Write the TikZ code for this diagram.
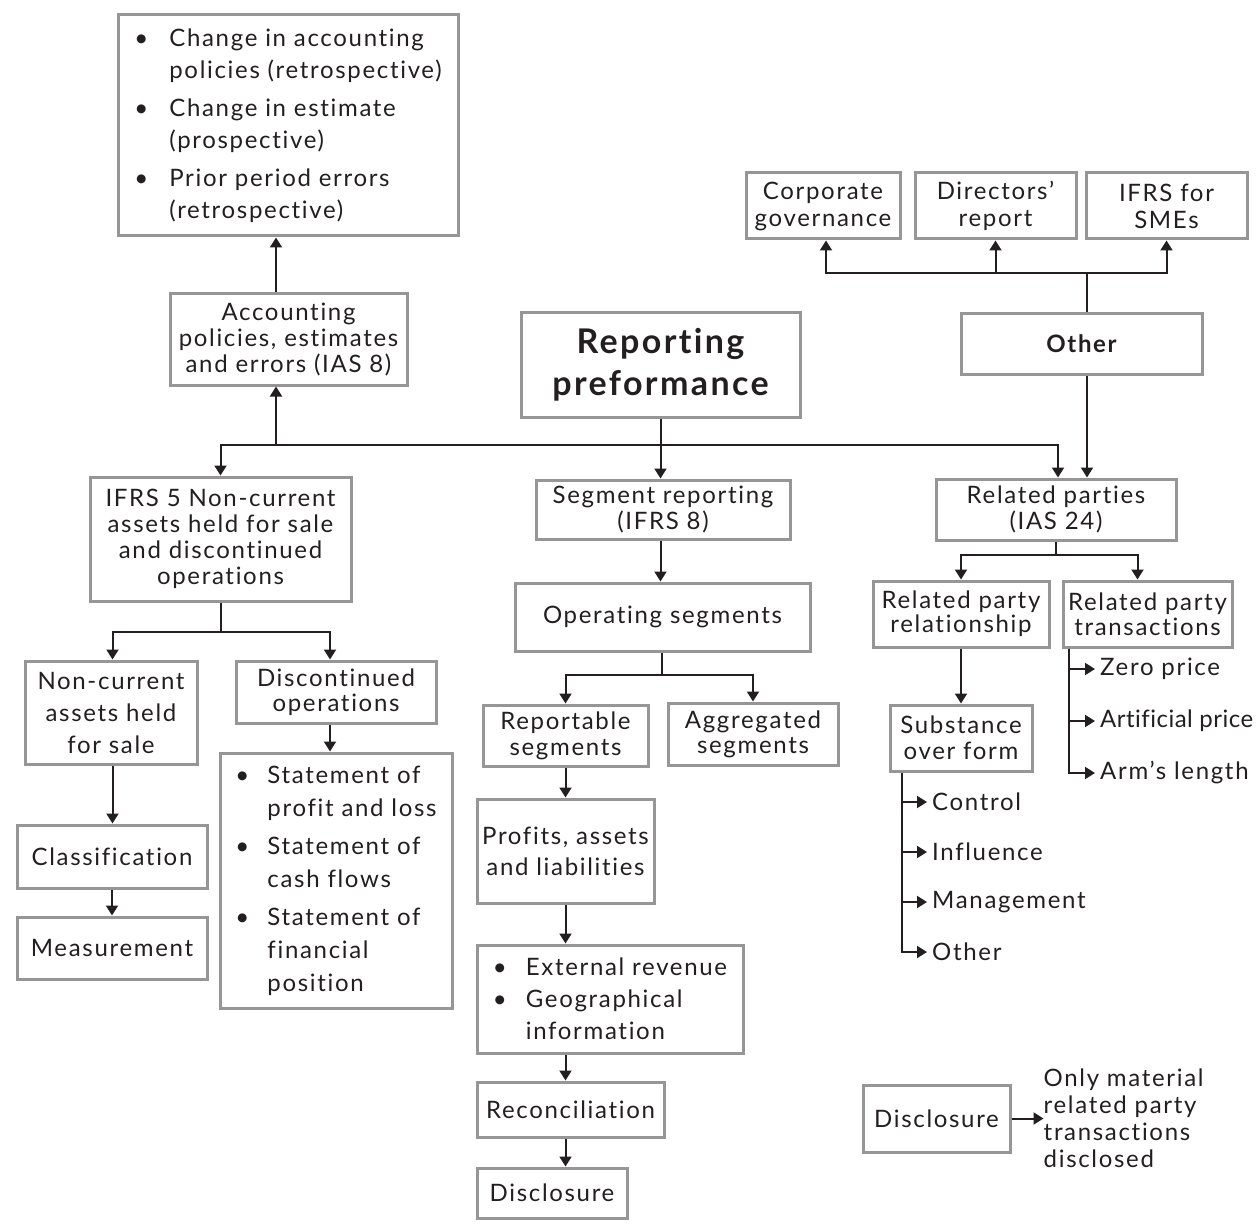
\documentclass[tikz,border=0pt]{standalone}
\usepackage{fontspec}
\setmainfont{Lato}[LetterSpace=7, Ligatures=NoCommon]
\usepackage{xcolor}
\usetikzlibrary{arrows.meta, positioning, calc}
\definecolor{boxgray}{RGB}{150,150,150}
\definecolor{inkdark}{RGB}{35,31,32}
\newcommand{\setfs}[2]{\fontsize{#1}{#2}\selectfont}
\newcommand{\bitem}[2][35pt]{\makebox[#1][l]{\textbullet}#2}
\newcommand{\bgap}[2][35pt]{\hspace*{#1}#2}
\tikzstyle{box} = [draw=boxgray, line width=3pt, rectangle, align=center, inner sep=0pt, text=inkdark, font=\setfs{24}{26}]
\tikzstyle{listbox} = [box, align=left, font=\setfs{24}{32}]
\tikzstyle{lbl} = [anchor=west, inner xsep=5pt, inner ysep=0pt, text=inkdark, font=\setfs{24}{26}]
\tikzstyle{arrow} = [draw=inkdark, line width=2pt, -{Triangle[length=10pt,width=12pt]}]
\tikzstyle{line} = [draw=inkdark, line width=2pt]

\begin{document}
\begin{tikzpicture}[x=1pt, y=-1pt]
    \path[fill=white] (0,0) rectangle (1259,1225);
    \useasboundingbox (0,0) rectangle (1259,1225);

    % centre
    \node (report) [box, minimum width=279, minimum height=105, font=\bfseries\setfs{34}{42}] at (660.5,364.5) {Reporting\\preformance};

    % IAS 8
    \node (changes) [listbox, minimum width=340, minimum height=221] at (288,125.5) {\bitem{Change in accounting}\\ \bgap{policies (retrospective)}\\[6pt] \bitem{Change in estimate}\\ \bgap{(prospective)}\\[6pt] \bitem{Prior period errors}\\ \bgap{(retrospective)}};
    \node (acc) [box, minimum width=237, minimum height=91] at (288.5,339.5) {Accounting\\policies, estimates\\and errors (IAS 8)};

    % other
    \node (corp) [box, minimum width=154, minimum height=66, font=\setfs{24}{27}] at (823,206) {Corporate\\governance};
    \node (dirs) [box, minimum width=161, minimum height=66, font=\setfs{24}{27}] at (995.5,206) {Directors’\\report};
    \node (smes) [box, minimum width=161, minimum height=66, font=\setfs{24}{27}] at (1166.5,206) {IFRS for\\SMEs};
    \node (other) [box, minimum width=241, minimum height=61, font=\bfseries\setfs{24}{26}] at (1081.5,343.5) {Other};

    % IFRS 5
    \node (ifrsfive) [box, minimum width=261, minimum height=124] at (220.5,539) {IFRS 5 Non-current\\assets held for sale\\and discontinued\\operations};
    \node (noncur) [box, minimum width=172, minimum height=103, font=\setfs{24}{32}] at (111,712.5) {Non-current\\assets held\\for sale};
    \node (discont) [box, minimum width=200, minimum height=62, font=\setfs{24}{25}] at (336,692) {Discontinued\\operations};
    \node (stmts) [listbox, minimum width=232, minimum height=255, font=\setfs{24}{33}] at (336,880.5) {\bitem[32pt]{Statement of}\\ \bgap[32pt]{profit and loss}\\[5pt] \bitem[32pt]{Statement of}\\ \bgap[32pt]{cash flows}\\[5pt] \bitem[32pt]{Statement of}\\ \bgap[32pt]{financial}\\ \bgap[32pt]{position}};
    \node (class) [box, minimum width=190, minimum height=63] at (112,856.5) {Classification};
    \node (meas) [box, minimum width=190, minimum height=62] at (112,948) {Measurement};

    % IFRS 8
    \node (segrep) [box, minimum width=254, minimum height=59] at (663,509.5) {Segment reporting\\(IFRS 8)};
    \node (opseg) [box, minimum width=295, minimum height=68] at (662.5,617) {Operating segments};
    \node (repseg) [box, minimum width=165, minimum height=61] at (565.5,735.5) {Reportable\\segments};
    \node (aggseg) [box, minimum width=170, minimum height=62, font=\setfs{24}{25}] at (753,734) {Aggregated\\segments};
    \node (profits) [box, minimum width=177, minimum height=104, font=\setfs{24}{31}] at (565.5,851) {Profits, assets\\and liabilities};
    \node (segbul) [listbox, minimum width=266, minimum height=108] at (610,999) {\bitem[33pt]{External revenue}\\ \bitem[33pt]{Geographical}\\ \bgap[33pt]{information}};
    \node (recon) [box, minimum width=187, minimum height=55] at (570.5,1109.5) {Reconciliation};
    \node (segdisc) [box, minimum width=150, minimum height=50] at (552,1193) {Disclosure};

    % IAS 24
    \node (relp) [box, minimum width=240, minimum height=61] at (1056,509.5) {Related parties\\(IAS 24)};
    \node (relship) [box, minimum width=176, minimum height=66, font=\setfs{24}{24}] at (961,614) {Related party\\relationship};
    \node (reltrans) [box, minimum width=169, minimum height=66, font=\setfs{24}{25}] at (1147.5,614) {Related party\\transactions};
    \node (subst) [box, minimum width=142, minimum height=66] at (961,738) {Substance\\over form};
    \node (ctrl) [lbl] at (927,802) {Control};
    \node (infl) [lbl] at (927,852) {Influence};
    \node (mgmt) [lbl] at (927,902) {Management};
    \node (oth) [lbl] at (927,952) {Other};
    \node (zero) [lbl] at (1095,669) {Zero price};
    \node (artif) [lbl] at (1095,721) {\addfontfeature{LetterSpace=2}Artificial price};
    \node (arms) [lbl] at (1095,773) {Arm's length};
    \node (rpdisc) [box, minimum width=147, minimum height=67] at (936.5,1118.5) {Disclosure};
    \node (rpnote) [lbl, anchor=center, inner xsep=0pt, align=left, font=\setfs{24}{27}, right=32pt of rpdisc] {Only material\\related party\\transactions\\disclosed};

    % connectors from the centre
    \coordinate (split) at (660.5,445);
    \coordinate (accsplit) at (276,445);
    \draw [arrow] (report.south) -- (report.south |- segrep.north);
    \draw [arrow] (split) -| (ifrsfive.north);
    \draw [arrow] (split) -| ([xshift=2]relp.north);
    \draw [arrow] (accsplit) -- (accsplit |- acc.south);
    \draw [arrow] (accsplit |- acc.north) -- (accsplit |- changes.south);

    % connectors of other
    \coordinate (toprail) at (1087,273);
    \draw [line] ([xshift=5.5]other.north) -- (toprail);
    \draw [arrow] (toprail) -| ([xshift=3]corp.south);
    \draw [arrow] (toprail) -| (smes.south);
    \draw [arrow] (toprail -| dirs.south) -- (dirs.south);
    \draw [arrow] ([xshift=5.5]other.south) -- ([xshift=5.5]other.south |- relp.north);

    % connectors of IFRS 5
    \coordinate (ifsplit) at (220.5,632);
    \draw [line] (ifrsfive.south) -- (ifsplit);
    \draw [arrow] (ifsplit) -| ([xshift=1.5]noncur.north);
    \draw [arrow] (ifsplit) -| ([xshift=-6]discont.north);
    \draw [arrow] ([xshift=-6]discont.south) -- ([xshift=-6]discont.south |- stmts.north);
    \draw [arrow] ([xshift=1.5]noncur.south) -- ([xshift=1.5]noncur.south |- class.north);
    \draw [arrow] (class.south) -- (meas.north);

    % connectors of IFRS 8
    \coordinate (opsplit) at (662,675);
    \draw [arrow] (segrep.south -| report.south) -- (opseg.north -| report.south);
    \draw [line] (opseg.south -| opsplit) -- (opsplit);
    \draw [arrow] (opsplit) -| (repseg.north);
    \draw [arrow] (opsplit) -| (aggseg.north);
    \draw [arrow] (repseg.south) -- (profits.north);
    \draw [arrow] (profits.south) -- (profits.south |- segbul.north);
    \draw [arrow] (segbul.south -| profits.south) -- (recon.north -| profits.south);
    \draw [arrow] (recon.south -| profits.south) -- (segdisc.north -| profits.south);

    % connectors of IAS 24
    \coordinate (rpsplit) at (1056,555);
    \draw [line] (relp.south) -- (rpsplit);
    \draw [arrow] (rpsplit) -| (relship.north);
    \draw [arrow] (rpsplit) -| ([xshift=-10]reltrans.north);
    \draw [arrow] (relship.south) -- (subst.north);
    \draw [arrow] ([xshift=-59]subst.south) |- (ctrl.west);
    \draw [arrow] ([xshift=-59]subst.south) |- (infl.west);
    \draw [arrow] ([xshift=-59]subst.south) |- (mgmt.west);
    \draw [arrow] ([xshift=-59]subst.south) |- (oth.west);
    \draw [arrow] ([xshift=-78.5]reltrans.south) |- (zero.west);
    \draw [arrow] ([xshift=-78.5]reltrans.south) |- (artif.west);
    \draw [arrow] ([xshift=-78.5]reltrans.south) |- (arms.west);
    \draw [arrow] (rpdisc) -- (rpnote);
\end{tikzpicture}
\end{document}
